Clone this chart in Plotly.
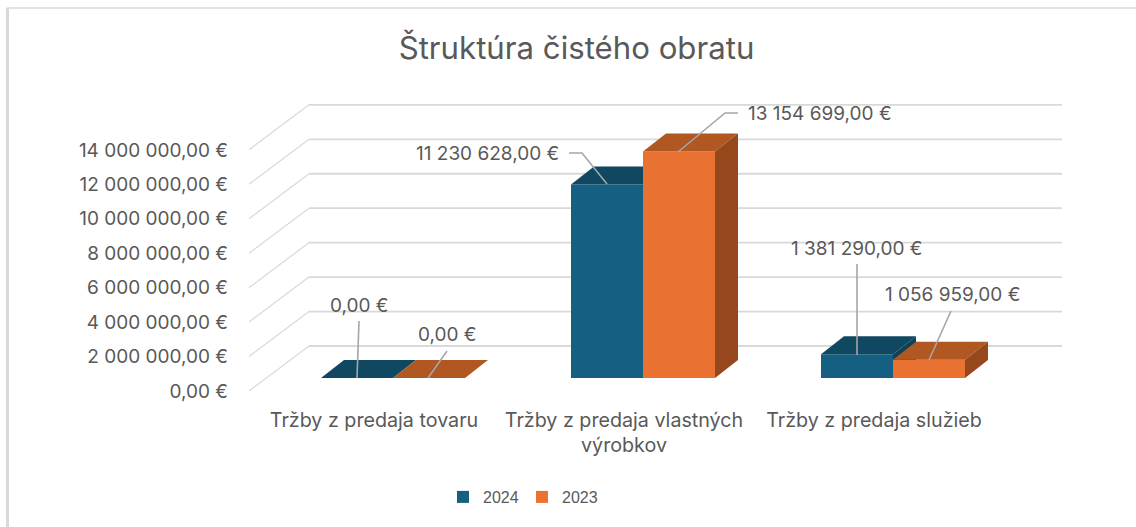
import plotly.graph_objects as go

categories = ["Tržby z predaja tovaru", "Tržby z predaja vlastných<br>výrobkov", "Tržby z predaja služieb"]
values_2024 = [0, 11230628, 1381290]
values_2023 = [0, 13154699, 1056959]
y_ticks = [0, 2000000, 4000000, 6000000, 8000000, 10000000, 12000000, 14000000]

TEXT = "#595959"
GRID = "#d9d9d9"
LEADER = "#a6a6a6"
FONT = "Inter"
W, H = 1136, 527
L, R, T, B = 249, 1070, 90, 391
CAT_PX = 250.0
VAL_PER_PX = 2000000 / 34.45


def dx(px):
    return px / CAT_PX


def dv(px):
    return px * VAL_PER_PX


def xp(px):
    return (px - L) / CAT_PX - 0.5


def yp(px):
    return (B - px) * VAL_PER_PX


def euro(v):
    return f"{v:,.2f}".replace(",", " ").replace(".", ",") + " €"


BACK_DX, BACK_DY = 60, 45
BAR_SHIFT_X, BAR_SHIFT_Y = 19, 13
BAR_W = 72
DEPTH_X, DEPTH_Y = 23, 18

fig = go.Figure()

# walls: diagonal + back grid line for each tick, behind everything
shapes = []
for t in y_ticks:
    back = t + dv(BACK_DY)
    shapes.append(dict(type="line", xref="x", yref="y", layer="below", x0=-0.5, y0=t,
                       x1=-0.5 + dx(BACK_DX), y1=back, line=dict(color=GRID, width=1.2)))
    shapes.append(dict(type="line", xref="x", yref="y", layer="below", x0=-0.5 + dx(BACK_DX), y0=back,
                       x1=xp(1062), y1=back, line=dict(color=GRID, width=1.8)))
# chart frame
shapes.append(dict(type="line", xref="paper", yref="paper", x0=-(L - 7) / (R - L), x1=(W - L) / (R - L),
                   y0=(B - 8) / (B - T), y1=(B - 8) / (B - T), line=dict(color=GRID, width=1.5)))
shapes.append(dict(type="line", xref="paper", yref="paper", x0=-(L - 7.5) / (R - L), x1=-(L - 7.5) / (R - L),
                   y0=(B - H) / (B - T), y1=(B - 8) / (B - T), line=dict(color=GRID, width=3)))


series = [
    ("2024", values_2024, "#156082", "#104862", "#0f4258", -BAR_W, "y"),
    ("2023", values_2023, "#E97132", "#B05722", "#96481C", 0, "y2"),
]
for name, vals, front, top, side, off, yaxis in series:
    base = dv(BAR_SHIFT_Y)
    fig.add_trace(go.Bar(name=name, x=[0, 1, 2], y=vals, base=base, yaxis=yaxis,
                         width=dx(BAR_W), offset=dx(BAR_SHIFT_X + off),
                         marker=dict(color=front, line=dict(width=0)), hoverinfo="skip"))
    tx, ty, sx, sy = [], [], [], []
    for i, v in enumerate(vals):
        x0 = i + dx(BAR_SHIFT_X + off)
        x1 = x0 + dx(BAR_W)
        y1 = base + v
        tx += [x0, x1, x1 + dx(DEPTH_X), x0 + dx(DEPTH_X), x0, None]
        ty += [y1, y1, y1 + dv(DEPTH_Y), y1 + dv(DEPTH_Y), y1, None]
        if v > 0:
            sx += [x1, x1 + dx(DEPTH_X), x1 + dx(DEPTH_X), x1, x1, None]
            sy += [base, base + dv(DEPTH_Y), y1 + dv(DEPTH_Y), y1, base, None]
    for xs, ys, color in ((tx, ty, top), (sx, sy, side)):
        fig.add_trace(go.Scatter(x=xs, y=ys, yaxis=yaxis, mode="lines", fill="toself", fillcolor=color,
                                 line=dict(width=0, color=color), showlegend=False, hoverinfo="skip"))

# leader lines: pixel paths, label anchor
labels = [
    (values_2024[0], [(357, 378), (359, 321)], (359, 305), "center"),
    (values_2023[0], [(428, 378), (447, 351)], (447, 334), "center"),
    (values_2024[1], [(607, 184), (582, 153), (569, 153)], (561, 153), "right"),
    (values_2023[1], [(678, 152), (725, 113), (738, 113)], (746, 113), "left"),
    (values_2024[2], [(857, 355), (857, 264)], (856, 248), "center"),
    (values_2023[2], [(929, 360), (951, 311)], (952, 294), "center"),
]
lx, ly = [], []
for v, path, pos, anchor in labels:
    for px, py in path:
        lx.append(xp(px))
        ly.append(yp(py))
    lx.append(None)
    ly.append(None)
    fig.add_annotation(x=xp(pos[0]), y=yp(pos[1]), xref="x", yref="y", text=euro(v), showarrow=False,
                       xanchor=anchor, yanchor="middle", font=dict(family=FONT, size=19, color=TEXT))
fig.add_trace(go.Scatter(x=lx, y=ly, yaxis="y2", mode="lines", line=dict(color=LEADER, width=1.6),
                         showlegend=False, hoverinfo="skip"))

y_range = [0, (B - T) * VAL_PER_PX]
fig.update_layout(
    width=W, height=H, margin=dict(l=L, r=W - R, t=T, b=H - B),
    paper_bgcolor="white", plot_bgcolor="white", showlegend=True,
    title=dict(text="Štruktúra čistého obratu", x=576.5 / W, xanchor="center", y=1 - 48 / H, yanchor="middle",
               font=dict(family=FONT, size=31.2, color=TEXT)),
    xaxis=dict(range=[-0.5, -0.5 + (R - L) / CAT_PX], tickmode="array", tickvals=[0, 1, 2], ticktext=categories,
               showgrid=False, zeroline=False, showline=False, ticks="", ticklabelstandoff=15,
               tickfont=dict(family=FONT, size=19.7, color=TEXT)),
    yaxis=dict(range=y_range, tickmode="array", tickvals=y_ticks, ticktext=[euro(t) for t in y_ticks],
               showgrid=False, zeroline=False, showline=False, ticks="", ticklabelstandoff=20,
               tickfont=dict(family=FONT, size=19, color=TEXT)),
    yaxis2=dict(range=y_range, overlaying="y", visible=False),
    legend=dict(orientation="h", x=(522 - L) / (R - L), y=1 - 497 / H, yref="container",
                xanchor="center", yanchor="middle", font=dict(family="Liberation Sans", size=16, color=TEXT),
                traceorder="normal", entrywidth=34, entrywidthmode="pixels"),
    shapes=shapes,
)

fig.write_html("out.html", config=dict(displayModeBar=False),
               post_script="document.body.style.margin='0';document.body.style.overflow='hidden';")
